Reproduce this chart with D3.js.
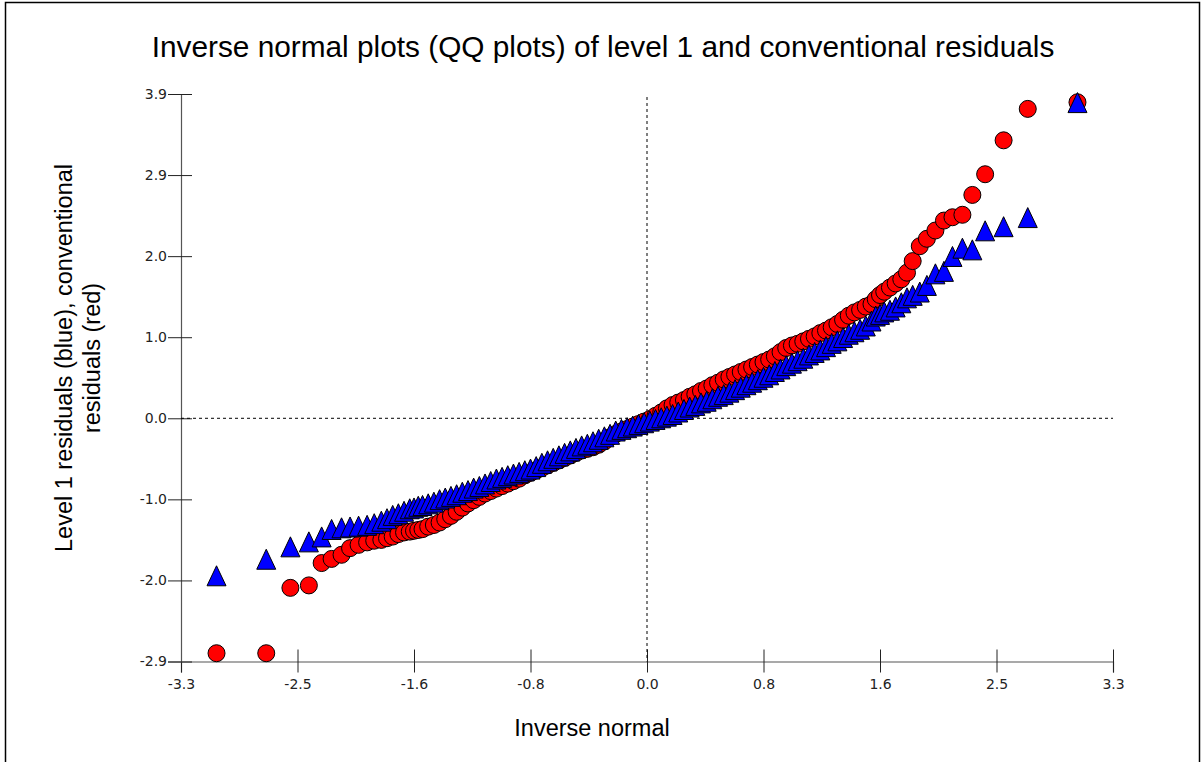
<!DOCTYPE html>
<html>
<head>
<meta charset="utf-8">
<script src="https://cdn.jsdelivr.net/npm/d3@7"></script>
<style>
body { margin: 0; background: #fff; }
svg { display: block; font-family: "Liberation Sans", Arial, sans-serif; }
</style>
</head>
<body>
<svg id="chart" width="1204" height="762"></svg>
<script>
// inverse normal scores (shared by both series)
var normalScores = [
  -3.03, -2.68, -2.51, -2.38, -2.29, -2.22, -2.15, -2.09, -2.03, -1.97, -1.92, -1.87, -1.83, -1.79, -1.75, -1.71, -1.67, -1.64, -1.61,
  -1.58, -1.54, -1.50, -1.46, -1.42, -1.38, -1.34, -1.30, -1.26, -1.22, -1.18, -1.14, -1.10, -1.06, -1.02, -0.98, -0.94, -0.90, -0.86, -0.82,
  -0.78, -0.74, -0.70, -0.66, -0.62, -0.58, -0.54, -0.50, -0.46, -0.42, -0.38, -0.34, -0.30, -0.26, -0.22, -0.18, -0.14, -0.10, -0.06, -0.02,
  0.02, 0.06, 0.10, 0.14, 0.18, 0.22, 0.26, 0.30, 0.34, 0.38, 0.42, 0.46, 0.50, 0.54, 0.58, 0.62, 0.66, 0.70, 0.74, 0.78,
  0.82, 0.86, 0.90, 0.94, 0.98, 1.02, 1.06, 1.10, 1.14, 1.18, 1.22, 1.26, 1.30, 1.34, 1.38, 1.42, 1.46, 1.50, 1.54, 1.58,
  1.61, 1.64, 1.67, 1.71, 1.75, 1.79, 1.83, 1.87, 1.92, 1.97, 2.03, 2.09, 2.15, 2.22, 2.29, 2.38, 2.51, 2.68, 3.03
];

// conventional residuals (red)
var convResid = [
  -2.84, -2.84, -2.05, -2.02, -1.75, -1.70, -1.65, -1.57, -1.53, -1.50, -1.48, -1.47, -1.45, -1.43, -1.40, -1.38, -1.37, -1.36, -1.35,
  -1.34, -1.31, -1.29, -1.26, -1.22, -1.18, -1.13, -1.08, -1.03, -0.99, -0.95, -0.91, -0.88, -0.85, -0.82, -0.79, -0.76, -0.73, -0.69, -0.66,
  -0.63, -0.60, -0.57, -0.54, -0.51, -0.48, -0.45, -0.42, -0.39, -0.37, -0.35, -0.32, -0.28, -0.23, -0.19, -0.16, -0.13, -0.10, -0.07, -0.04,
  -0.01, 0.03, 0.07, 0.12, 0.16, 0.19, 0.22, 0.26, 0.29, 0.33, 0.36, 0.40, 0.43, 0.47, 0.50, 0.53, 0.56, 0.59, 0.62, 0.65,
  0.68, 0.71, 0.75, 0.80, 0.85, 0.88, 0.90, 0.93, 0.96, 0.99, 1.03, 1.06, 1.10, 1.14, 1.19, 1.24, 1.28, 1.31, 1.35, 1.38,
  1.44, 1.49, 1.53, 1.58, 1.63, 1.68, 1.76, 1.90, 2.08, 2.17, 2.27, 2.39, 2.43, 2.46, 2.70, 2.95, 3.36, 3.74, 3.82
];

// level 1 residuals (blue)
var level1Resid = [
  -1.91, -1.71, -1.56, -1.50, -1.44, -1.35, -1.33, -1.32, -1.31, -1.30, -1.28, -1.25, -1.22, -1.18, -1.16, -1.13, -1.10, -1.09, -1.07,
  -1.06, -1.04, -1.02, -0.99, -0.97, -0.95, -0.93, -0.90, -0.88, -0.85, -0.83, -0.80, -0.77, -0.74, -0.72, -0.70, -0.68, -0.66, -0.64, -0.62,
  -0.59, -0.55, -0.52, -0.49, -0.46, -0.43, -0.40, -0.37, -0.34, -0.32, -0.29, -0.26, -0.23, -0.20, -0.16, -0.14, -0.12, -0.10, -0.08, -0.06,
  -0.04, -0.02, 0.00, 0.02, 0.04, 0.07, 0.10, 0.13, 0.15, 0.18, 0.20, 0.23, 0.26, 0.28, 0.31, 0.34, 0.37, 0.40, 0.43, 0.46,
  0.49, 0.52, 0.56, 0.59, 0.63, 0.66, 0.69, 0.72, 0.76, 0.79, 0.82, 0.86, 0.90, 0.93, 0.97, 1.01, 1.04, 1.07, 1.11, 1.17,
  1.23, 1.25, 1.28, 1.30, 1.34, 1.39, 1.45, 1.48, 1.52, 1.60, 1.74, 1.77, 1.95, 2.05, 2.03, 2.26, 2.31, 2.42, 3.81
];

var xTicks = [-3.28, -2.46, -1.64, -0.82, 0, 0.82, 1.64, 2.46, 3.28];
var xTickLabels = ["-3.3", "-2.5", "-1.6", "-0.8", "0.0", "0.8", "1.6", "2.5", "3.3"];
var yTicks = [-2.94, -1.96, -0.98, 0, 0.98, 1.96, 2.94, 3.92];
var yTickLabels = ["-2.9", "-2.0", "-1.0", "0.0", "1.0", "2.0", "2.9", "3.9"];

var svg = d3.select("#chart");

var x = d3.scaleLinear().domain([-3.28, 3.28]).range([181, 1113]);
var y = d3.scaleLinear().domain([-2.94, 3.92]).range([661.5, 94]);

// outer frame
svg.append("rect").attr("x", 5.5).attr("y", 2.5).attr("width", 1194).attr("height", 800)
  .attr("fill", "none").attr("stroke", "#000").attr("stroke-width", 1.5);

svg.append("text").attr("x", 603).attr("y", 57).attr("text-anchor", "middle")
  .attr("font-size", 29.8).attr("fill", "#000")
  .text("Inverse normal plots (QQ plots) of level 1 and conventional residuals");

// axes, ticks cross the axis line
var xAxis = svg.append("g").attr("transform", "translate(0," + y.range()[0] + ")")
  .call(d3.axisBottom(x).tickValues(xTicks).tickSizeOuter(0).tickSize(11).tickPadding(7)
    .tickFormat(function(d, i) { return xTickLabels[i]; }));
xAxis.selectAll(".tick line").attr("y1", -12).attr("y2", 11);

var yAxis = svg.append("g").attr("transform", "translate(" + x.range()[0] + ",0)")
  .call(d3.axisLeft(y).tickValues(yTicks).tickSizeOuter(0).tickSize(13).tickPadding(1)
    .tickFormat(function(d, i) { return yTickLabels[i]; }));
yAxis.selectAll(".tick line").attr("x1", -13).attr("x2", 11);

[xAxis, yAxis].forEach(function(a) {
  a.select(".domain").attr("stroke", "#555").attr("stroke-width", 1.2);
  a.selectAll(".tick line").attr("stroke", "#222");
  a.selectAll("text").attr("font-size", 14).attr("fill", "#222")
    .attr("font-family", "'DejaVu Sans', sans-serif");
});

// dashed zero lines
svg.append("line").attr("x1", x(0)).attr("x2", x(0)).attr("y1", y.range()[1] + 3).attr("y2", y.range()[0])
  .attr("stroke", "#000").attr("stroke-dasharray", "3,3");
svg.append("line").attr("x1", x.range()[0]).attr("x2", x.range()[1]).attr("y1", y(0)).attr("y2", y(0))
  .attr("stroke", "#000").attr("stroke-dasharray", "3,3");

// red circles first, blue triangles on top
svg.append("g").selectAll("circle").data(normalScores).enter().append("circle")
  .attr("cx", function(d) { return x(d); })
  .attr("cy", function(d, i) { return y(convResid[i]); })
  .attr("r", 8.5)
  .attr("fill", "#ff0000").attr("stroke", "#000").attr("stroke-width", 1);

var tri = "M0,-10.5L9.5,9.5L-9.5,9.5Z";
svg.append("g").selectAll("path").data(normalScores).enter().append("path")
  .attr("d", tri)
  .attr("transform", function(d, i) { return "translate(" + x(d) + "," + y(level1Resid[i]) + ")"; })
  .attr("fill", "#0000ff").attr("stroke", "#000").attr("stroke-width", 1);

svg.append("text").attr("x", 592).attr("y", 736).attr("text-anchor", "middle")
  .attr("font-size", 23.5).attr("fill", "#000").text("Inverse normal");

var yl = svg.append("g").attr("transform", "translate(72,358) rotate(-90)");
yl.append("text").attr("x", 0).attr("y", 0).attr("text-anchor", "middle")
  .attr("font-size", 23.5).attr("fill", "#000").text("Level 1 residuals (blue), conventional");
yl.append("text").attr("x", 0).attr("y", 28).attr("text-anchor", "middle")
  .attr("font-size", 23.5).attr("fill", "#000").text("residuals (red)");
</script>
</body>
</html>
